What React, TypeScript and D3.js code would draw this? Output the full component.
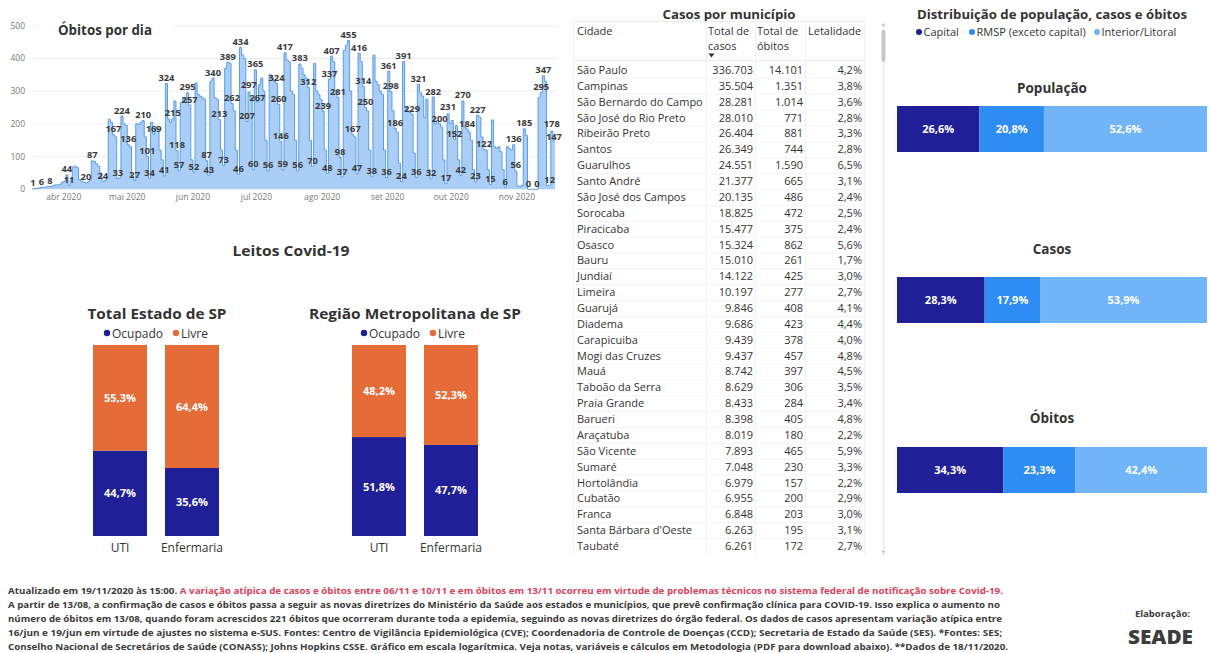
import React from "react";
import * as d3 from "d3";

// ---------- Óbitos por dia ----------
const inicioSerie = "2020-03-17";
const obitosPorDia = [
  1, 3, 2, 4, 6, 5, 7,
  9, 8, 10, 12, 14, 13, 16,
  22, 25, 44, 11, 28, 68, 70,
  66, 30, 25, 22, 20, 22, 28,
  87, 85, 78, 70, 50, 24, 26,
  38, 214, 205, 167, 160, 33, 35,
  224, 200, 195, 136, 130, 40, 27,
  200, 198, 205, 210, 160, 101, 34,
  205, 169, 190, 185, 120, 90, 41,
  324, 215, 205, 215, 270, 118, 57,
  265, 280, 265, 295, 257, 90, 52,
  325, 290, 285, 280, 275, 87, 43,
  330, 340, 280, 275, 213, 120, 73,
  370, 389, 385, 262, 240, 120, 46,
  434, 410, 400, 207, 297, 280, 60,
  365, 267, 320, 340, 300, 150, 56,
  350, 340, 330, 324, 260, 146, 59,
  417, 395, 390, 300, 290, 150, 56,
  383, 370, 350, 340, 312, 150, 70,
  385, 300, 290, 275, 239, 120, 48,
  337, 407, 390, 300, 281, 98, 37,
  425, 440, 455, 300, 167, 160, 47,
  416, 390, 314, 250, 240, 120, 38,
  410, 330, 320, 300, 290, 120, 36,
  361, 298, 240, 186, 175, 80, 24,
  391, 250, 240, 235, 229, 110, 36,
  321, 295, 285, 220, 275, 60, 32,
  282, 200, 210, 200, 190, 90, 17,
  231, 200, 210, 152, 195, 90, 42,
  270, 190, 184, 175, 150, 60, 23,
  227, 220, 160, 122, 120, 60, 15,
  212, 130, 125, 130, 115, 60, 6,
  130, 125, 120, 136, 56, 10, 8,
  12, 185, 165, 0, 0, 0, 0,
  0, 280, 295, 347, 330, 12, 12,
  178, 147,
];
const diasRotulados = [
  0, 4, 8, 16, 17, 25, 28, 33, 38, 40, 42, 45, 48, 52, 54, 55, 57, 62, 63, 66, 68, 69, 73, 74, 76,
  82, 83, 85, 88, 90, 92, 94, 97, 98, 101, 102, 104, 105, 106, 111, 115, 116, 117, 118, 119, 125,
  126, 130, 132, 137, 139, 140, 141, 144, 145, 146, 149, 151, 153, 154, 156, 157, 160, 167, 168,
  169, 171, 174, 175, 179, 181, 182, 188, 189, 192, 195, 196, 199, 202, 203, 205, 209, 210, 213,
  216, 223, 227, 228, 232, 234, 238, 240, 241, 244, 245, 246,
];
const mesesTicks = ["2020-04-01", "2020-05-01", "2020-06-01", "2020-07-01", "2020-08-01", "2020-09-01", "2020-10-01", "2020-11-01"];
const mesesRotulos = ["abr 2020", "mai 2020", "jun 2020", "jul 2020", "ago 2020", "set 2020", "out 2020", "nov 2020"];
const yTicks = [0, 100, 200, 300, 400, 500];

// ---------- Casos por município ----------
const cidades = [
  "São Paulo", "Campinas", "São Bernardo do Campo", "São José do Rio Preto", "Ribeirão Preto", "Santos",
  "Guarulhos", "Santo André", "São José dos Campos", "Sorocaba", "Piracicaba", "Osasco", "Bauru", "Jundiaí",
  "Limeira", "Guarujá", "Diadema", "Carapicuiba", "Mogi das Cruzes", "Mauá", "Taboão da Serra", "Praia Grande",
  "Barueri", "Araçatuba", "São Vicente", "Sumaré", "Hortolândia", "Cubatão", "Franca", "Santa Bárbara d'Oeste", "Taubaté",
];
const totalCasos = [
  336703, 35504, 28281, 28010, 26404, 26349, 24551, 21377, 20135, 18825, 15477, 15324, 15010, 14122,
  10197, 9846, 9686, 9439, 9437, 8742, 8629, 8433, 8398, 8019, 7893, 7048, 6979, 6955, 6848, 6263, 6261,
];
const totalObitos = [
  14101, 1351, 1014, 771, 881, 744, 1590, 665, 486, 472, 375, 862, 261, 425,
  277, 408, 423, 378, 457, 397, 306, 284, 405, 180, 465, 230, 157, 200, 203, 195, 172,
];
const letalidade = [
  4.2, 3.8, 3.6, 2.8, 3.3, 2.8, 6.5, 3.1, 2.4, 2.5, 2.4, 5.6, 1.7, 3.0,
  2.7, 4.1, 4.4, 4.0, 4.8, 4.5, 3.5, 3.4, 4.8, 2.2, 5.9, 3.3, 2.2, 2.9, 3.0, 3.1, 2.7,
];

// ---------- Distribuição ----------
const regioes = ["Capital", "RMSP (exceto capital)", "Interior/Litoral"];
const distPopulacao = [26.6, 20.8, 52.6];
const distCasos = [28.3, 17.9, 53.9];
const distObitos = [34.3, 23.3, 42.4];

// ---------- Leitos ----------
const tiposLeito = ["UTI", "Enfermaria"];
const estadoOcupado = [44.7, 35.6];
const estadoLivre = [55.3, 64.4];
const rmspOcupado = [51.8, 47.7];
const rmspLivre = [48.2, 52.3];

const FONT = "'Segoe UI', 'Open Sans', 'Noto Sans', sans-serif";
const NAVY = "#1f1f97";
const MID = "#2f8cf2";
const LIGHT = "#72b4f8";
const ORANGE = "#e66c37";
const TXT = "#333333";

const loc = d3.formatLocale({ decimal: ",", thousands: ".", grouping: [3], currency: ["R$", ""] });
const fmtInt = loc.format(",d");
const fmtPct = (v: number) => loc.format(".1f")(v) + "%";
const parse = d3.timeParse("%Y-%m-%d");

// small vertical nudges for crowded labels (layout only)
const labelDy: Record<number, number> = { 102: -1.5, 106: 1.5, 196: -1.5, 192: 1, 245: -2, 246: 1.5 };

function ObitosChart() {
  const start = parse(inicioSerie) as Date;
  const n = obitosPorDia.length;
  const x = d3.scaleTime().domain([start, d3.timeDay.offset(start, n)]).range([32, 555]);
  const y = d3.scaleLinear().domain([0, 500]).range([189.3, 25.7]);
  const pts = obitosPorDia.map((v, i) => ({ d: d3.timeDay.offset(start, i), v }));
  const closed = [...pts, { d: d3.timeDay.offset(start, n), v: obitosPorDia[n - 1] }];
  const area = d3.area<any>().x((p) => x(p.d)).y0(y(0)).y1((p) => y(p.v)).curve(d3.curveStepAfter);
  const line = d3.line<any>().x((p) => x(p.d)).y((p) => y(p.v)).curve(d3.curveStepAfter);
  return (
    <g>
      {yTicks.map((t) => (
        <g key={t}>
          {t > 0 && <line x1={33} x2={558} y1={y(t)} y2={y(t)} stroke="#ececec" strokeWidth={1} />}
          <text x={25} y={y(t) + 3} textAnchor="end" fontSize={8.5} fill="#777" fontFamily={FONT}>{t}</text>
        </g>
      ))}
      <rect x={37} y={14} width={136} height={24} fill="#fff" />
      <text x={58} y={34.5} fontSize={14} fontWeight={700} fill={TXT} fontFamily={FONT} textLength={94} lengthAdjust="spacingAndGlyphs">Óbitos por dia</text>
      <path d={area(closed) || ""} fill="#abcef6" />
      <path d={line(closed) || ""} fill="none" stroke="#5a9de6" strokeWidth={1} />
      {mesesTicks.map((m, i) => (
        <text key={m} x={x(parse(m) as Date)} y={200} textAnchor="middle" fontSize={8.5} fill="#777" fontFamily={FONT}>{mesesRotulos[i]}</text>
      ))}
      {diasRotulados.map((i) => (
        <text key={i} x={x(pts[i].d) + 1} y={y(pts[i].v) - 2.5 + (labelDy[i] || 0)} textAnchor="middle" fontSize={9.3} fontWeight={700} fill="#3a3a3a" fontFamily={FONT}>{obitosPorDia[i]}</text>
      ))}
    </g>
  );
}

function Tabela() {
  const rows = d3.scaleBand<string>().domain(cidades).range([62, 62 + cidades.length * 15.87]);
  const colCasos = 753, colObitos = 803, colLet = 862;
  return (
    <g fontFamily={FONT} fill={TXT}>
      <text x={729} y={18.5} textAnchor="middle" fontSize={13} fontWeight={700} textLength={133} lengthAdjust="spacingAndGlyphs">Casos por município</text>
      <line x1={573} x2={864} y1={21.5} y2={21.5} stroke="#ebebeb" />
      <line x1={573} x2={864} y1={60.5} y2={60.5} stroke="#ebebeb" />
      {[573, 706, 755, 805, 864].map((vx) => (
        <line key={vx} x1={vx + 0.5} x2={vx + 0.5} y1={21.5} y2={556} stroke="#f1f1f1" />
      ))}
      <text x={577} y={35} fontSize={11}>Cidade</text>
      <text x={708} y={35} fontSize={11}>Total de</text>
      <text x={708} y={50} fontSize={11}>casos</text>
      <path d="M708.5,53.5 L714.5,53.5 L711.5,57.5 Z" fill="#333" />
      <text x={757} y={35} fontSize={11}>Total de</text>
      <text x={757} y={50} fontSize={11}>óbitos</text>
      <text x={808} y={35} fontSize={11}>Letalidade</text>
      {cidades.map((c, i) => {
        const top = rows(c) as number;
        const cy = top + rows.bandwidth() / 2 + 4;
        return (
          <g key={c}>
            {i > 0 && <line x1={573} x2={864} y1={top + 0.5} y2={top + 0.5} stroke="#f5f5f5" />}
            <text x={577} y={cy} fontSize={11}>{c}</text>
            <text x={colCasos} y={cy} fontSize={11} textAnchor="end">{fmtInt(totalCasos[i])}</text>
            <text x={colObitos} y={cy} fontSize={11} textAnchor="end">{fmtInt(totalObitos[i])}</text>
            <text x={colLet} y={cy} fontSize={11} textAnchor="end">{fmtPct(letalidade[i])}</text>
          </g>
        );
      })}
      <rect x={882} y={22} width={3} height={534} fill="#f4f4f4" />
      <rect x={881.5} y={30} width={4} height={32} rx={2} fill="#c8c8c8" />
      <path d="M881.5,26 L885.5,26 L883.5,23.5 Z" fill="#c0c0c0" />
      <path d="M881.5,551 L885.5,551 L883.5,553.5 Z" fill="#c0c0c0" />
    </g>
  );
}

function Distribuicao() {
  const cores = d3.scaleOrdinal<string, string>().domain(regioes).range([NAVY, MID, LIGHT]);
  const medidas = [
    { nome: "População", vals: distPopulacao, ty: 93, top: 106 },
    { nome: "Casos", vals: distCasos, ty: 254, top: 277 },
    { nome: "Óbitos", vals: distObitos, ty: 423, top: 447 },
  ];
  const legX = [919, 972, 1097];
  return (
    <g fontFamily={FONT}>
      <text x={1052} y={19} textAnchor="middle" fontSize={13} fontWeight={700} fill={TXT} textLength={270} lengthAdjust="spacingAndGlyphs">Distribuição de população, casos e óbitos</text>
      {regioes.map((r, i) => (
        <g key={r}>
          <circle cx={legX[i]} cy={32} r={3} fill={cores(r)} />
          <text x={legX[i] + 4.5} y={36} fontSize={11} fill={TXT}>{r}</text>
        </g>
      ))}
      {medidas.map((m) => {
        const total = d3.sum(m.vals);
        const x = d3.scaleLinear().domain([0, total]).range([897, 1207]);
        const cum = [0, ...d3.cumsum(m.vals)];
        return (
          <g key={m.nome}>
            <text x={1052} y={m.ty} textAnchor="middle" fontSize={13.5} fontWeight={700} fill={TXT}>{m.nome}</text>
            {m.vals.map((v, i) => (
              <g key={i}>
                <rect x={x(cum[i])} y={m.top} width={x(cum[i + 1]) - x(cum[i])} height={46} fill={cores(regioes[i])} />
                <text x={(x(cum[i]) + x(cum[i + 1])) / 2} y={m.top + 27} textAnchor="middle" fontSize={11} fontWeight={700} fill="#fff">{fmtPct(v)}</text>
              </g>
            ))}
          </g>
        );
      })}
    </g>
  );
}

function LeitosGrupo({ titulo, ocupado, livre, r0, r1, cx, tw, legDots }: any) {
  const xb = d3.scaleBand<string>().domain(tiposLeito).range([r0, r1]).paddingInner(0.25).paddingOuter(0.125);
  const y = d3.scaleLinear().domain([0, 100]).range([536, 345]);
  const dados = tiposLeito.map((t, i) => ({ tipo: t, ocupado: ocupado[i], livre: livre[i] }));
  const series = d3.stack<any>().keys(["ocupado", "livre"])(dados);
  const cor: any = { ocupado: NAVY, livre: ORANGE };
  return (
    <g fontFamily={FONT}>
      <text x={cx} y={319} textAnchor="middle" fontSize={15} fontWeight={700} fill={TXT} textLength={tw} lengthAdjust="spacingAndGlyphs">{titulo}</text>
      <circle cx={legDots[0]} cy={333} r={3.2} fill={NAVY} />
      <text x={legDots[0] + 5} y={337.5} fontSize={12} fill={TXT}>Ocupado</text>
      <circle cx={legDots[1]} cy={333} r={3.2} fill={ORANGE} />
      <text x={legDots[1] + 5} y={337.5} fontSize={12} fill={TXT}>Livre</text>
      {series.map((s: any) =>
        s.map((d: any) => {
          const bx = xb(d.data.tipo) as number;
          return (
            <g key={s.key + d.data.tipo}>
              <rect x={bx} y={y(d[1])} width={xb.bandwidth()} height={y(d[0]) - y(d[1])} fill={cor[s.key]} />
              <text x={bx + xb.bandwidth() / 2} y={(y(d[0]) + y(d[1])) / 2 + 4} textAnchor="middle" fontSize={11} fontWeight={700} fill="#fff">{fmtPct(d.data[s.key])}</text>
            </g>
          );
        })
      )}
      {tiposLeito.map((t) => (
        <text key={t} x={(xb(t) as number) + xb.bandwidth() / 2} y={552} textAnchor="middle" fontSize={12} fill={TXT}>{t}</text>
      ))}
    </g>
  );
}

const rodape = [
  "A partir de 13/08, a confirmação de casos e óbitos passa a seguir as novas diretrizes do Ministério da Saúde aos estados e municípios, que prevê confirmação clínica para COVID-19. Isso explica o aumento no",
  "número de óbitos em 13/08, quando foram acrescidos 221 óbitos que ocorreram durante toda a epidemia, seguindo as novas diretrizes do órgão federal. Os dados de casos apresentam variação atípica entre",
  "16/jun e 19/jun em virtude de ajustes no sistema e-SUS. Fontes: Centro de Vigilância Epidemiológica (CVE); Coordenadoria de Controle de Doenças (CCD); Secretaria de Estado da Saúde (SES). *Fontes: SES;",
  "Conselho Nacional de Secretários de Saúde (CONASS); Johns Hopkins CSSE. Gráfico em escala logarítmica. Veja notas, variáveis e cálculos em Metodologia (PDF para download abaixo). **Dados de 18/11/2020.",
];
const rodapeLarguras = [992, 994, 994, 1000];

function Rodape() {
  return (
    <g fontFamily={FONT} fontSize={9.5} fontWeight={700} fill="#3a3a3a">
      <text x={8} y={593.5} textLength={995} lengthAdjust="spacingAndGlyphs">
        Atualizado em 19/11/2020 às 15:00.{" "}
        <tspan fill="#d8415a">A variação atípica de casos e óbitos entre 06/11 e 10/11 e em óbitos em 13/11 ocorreu em virtude de problemas técnicos no sistema federal de notificação sobre Covid-19.</tspan>
      </text>
      {rodape.map((l, i) => (
        <text key={i} x={8} y={607.5 + i * 14} textLength={rodapeLarguras[i]} lengthAdjust="spacingAndGlyphs">{l}</text>
      ))}
      <text x={1190} y={616.5} textAnchor="end" fontSize={9.5} fill="#3a3a3a">Elaboração:</text>
      <text x={1128} y={644} fontSize={20} fontWeight={800} fill="#3d3d3d" textLength={65} lengthAdjust="spacingAndGlyphs">SEADE</text>
    </g>
  );
}

export default function App() {
  return (
    <svg width={1209} height={653} style={{ position: "absolute", left: 0, top: 0, background: "#fff" }}>
      <rect width={1209} height={653} fill="#fff" />
      <ObitosChart />
      <Tabela />
      <Distribuicao />
      <text x={291} y={256} textAnchor="middle" fontSize={15} fontWeight={700} fill={TXT} fontFamily={FONT} textLength={117} lengthAdjust="spacingAndGlyphs">Leitos Covid-19</text>
      <LeitosGrupo titulo="Total Estado de SP" ocupado={estadoOcupado} livre={estadoLivre} r0={84} r1={228} cx={157} tw={139} legDots={[107, 176]} />
      <LeitosGrupo titulo="Região Metropolitana de SP" ocupado={rmspOcupado} livre={rmspLivre} r0={343} r1={487} cx={415} tw={212} legDots={[364, 433]} />
      <Rodape />
    </svg>
  );
}
